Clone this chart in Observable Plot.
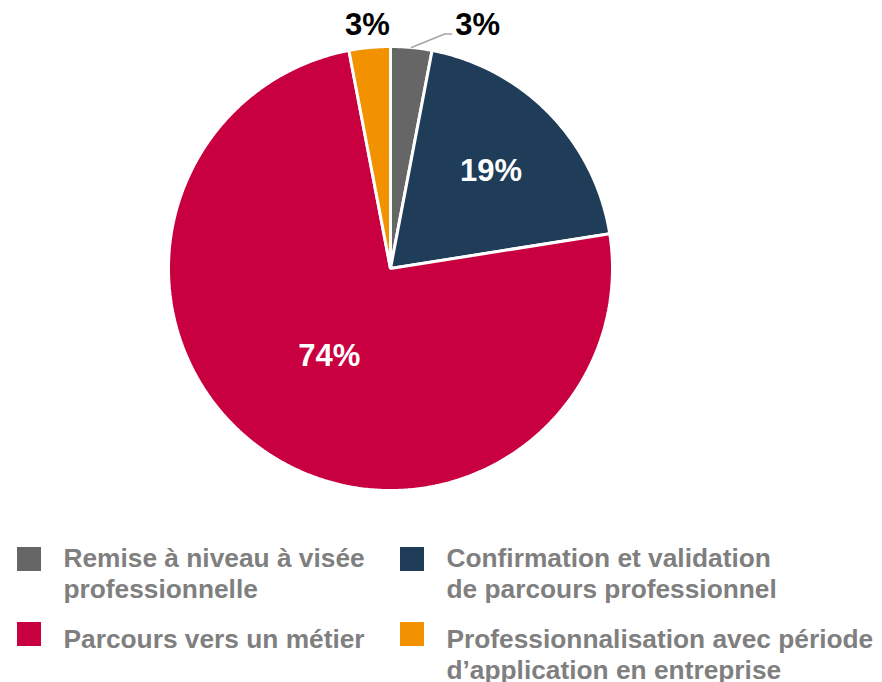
<!DOCTYPE html>
<html>
<head>
<meta charset="utf-8">
<script src="https://cdn.jsdelivr.net/npm/d3@7"></script>
<script src="https://cdn.jsdelivr.net/npm/@observablehq/plot@0.6"></script>
<style>
  body { margin: 0; background: #fff; font-family: "Liberation Sans", Arial, sans-serif; }
  #wrap { width: 882px; height: 682px; position: relative; overflow: hidden; }
  #legend { position: relative; width: 882px; height: 152px; }
  .sw { position: absolute; width: 24px; height: 24px; }
  .lt { position: absolute; font-size: 26.3px; line-height: 31.5px; font-weight: bold; color: #7f7f7f; white-space: nowrap; }
</style>
</head>
<body>
<div id="wrap">
  <div id="chart"></div>
  <div id="legend"></div>
</div>
<script>
// ---- data ----
const categories = [
  "Remise à niveau à visée professionnelle",
  "Confirmation et validation de parcours professionnel",
  "Parcours vers un métier",
  "Professionnalisation avec période d’application en entreprise"
];
const legendLines = [
  ["Remise à niveau à visée", "professionnelle"],
  ["Confirmation et validation", "de parcours professionnel"],
  ["Parcours vers un métier"],
  ["Professionnalisation avec période", "d’application en entreprise"]
];
const values = [3.0, 19.5, 74.5, 3.0];
const labels = ["3%", "19%", "74%", "3%"];
const colors = ["#666666", "#1f3d58", "#c8003f", "#f39200"];

// ---- layout (not data) ----
const R = 222, CX = 390, CY = 268;
const labelLayout = [
  {r: 1.165, offsetDeg: 14.3, outside: true, leader: true},
  {r: 0.63, offsetDeg: 0, outside: false},
  {r: 0.48, offsetDeg: 0, outside: false},
  {r: 1.1, offsetDeg: 0, outside: true}
];

// ---- geometry from data ----
const total = d3.sum(values);
let cum = 0;
const slices = values.map((v, i) => {
  const a0 = 2 * Math.PI * cum / total;
  cum += v;
  const a1 = 2 * Math.PI * cum / total;
  return {name: categories[i], a0, a1, mid: (a0 + a1) / 2, i};
});
const pts = [];
for (const s of slices) {
  pts.push({name: s.name, x: 0, y: 0});
  const n = Math.max(4, Math.ceil((s.a1 - s.a0) / (Math.PI / 360)));
  for (let k = 0; k <= n; k++) {
    const a = s.a0 + (s.a1 - s.a0) * k / n;
    pts.push({name: s.name, x: Math.sin(a), y: Math.cos(a)});
  }
}
const lbl = slices.map(s => {
  const L = labelLayout[s.i];
  const a = s.mid + L.offsetDeg * Math.PI / 180;
  return {text: labels[s.i], x: L.r * Math.sin(a), y: L.r * Math.cos(a), outside: L.outside, leader: L.leader, mid: s.mid};
});
const leader = [];
lbl.filter(d => d.leader).forEach(d => {
  const endX = d.x - 26 / R, endY = d.y - 9 / R;
  leader.push({x: Math.sin(d.mid), y: Math.cos(d.mid)});
  leader.push({x: endX - 7 / R, y: endY});
  leader.push({x: endX, y: endY});
});

const chart = Plot.plot({
  width: 882,
  height: 530,
  margin: 0,
  style: {fontFamily: "'Liberation Sans', Arial, sans-serif", background: "white"},
  x: {domain: [-1, 1], range: [CX - R, CX + R], axis: null},
  y: {domain: [-1, 1], range: [CY + R, CY - R], axis: null},
  color: {domain: categories, range: colors},
  marks: [
    Plot.line(pts, {x: "x", y: "y", z: "name", fill: "name", stroke: "white", strokeWidth: 3, curve: "linear-closed", strokeLinejoin: "miter"}),
    Plot.line(leader, {x: "x", y: "y", stroke: "#a6a6a6", strokeWidth: 1.5}),
    Plot.text(lbl.filter(d => !d.outside), {x: "x", y: "y", text: "text", fill: "white", fontSize: 31, fontWeight: "bold"}),
    Plot.text(lbl.filter(d => d.outside), {x: "x", y: "y", text: "text", fill: "black", fontSize: 31, fontWeight: "bold"})
  ]
});
document.getElementById("chart").appendChild(chart);

// ---- legend ----
const legend = document.getElementById("legend");
const cols = [17, 400];
const swRows = [16.7, 91.7];
const textRows = [12.7, 93.5];
categories.forEach((c, i) => {
  const col = i % 2, row = Math.floor(i / 2);
  const sw = document.createElement("div");
  sw.className = "sw";
  sw.style.left = cols[col] + "px";
  sw.style.top = swRows[row] + "px";
  sw.style.background = colors[i];
  legend.appendChild(sw);
  const t = document.createElement("div");
  t.className = "lt";
  t.style.left = (cols[col] + 46.5) + "px";
  t.style.top = textRows[row] + "px";
  t.innerHTML = legendLines[i].join("<br>");
  legend.appendChild(t);
});
</script>
</body>
</html>
